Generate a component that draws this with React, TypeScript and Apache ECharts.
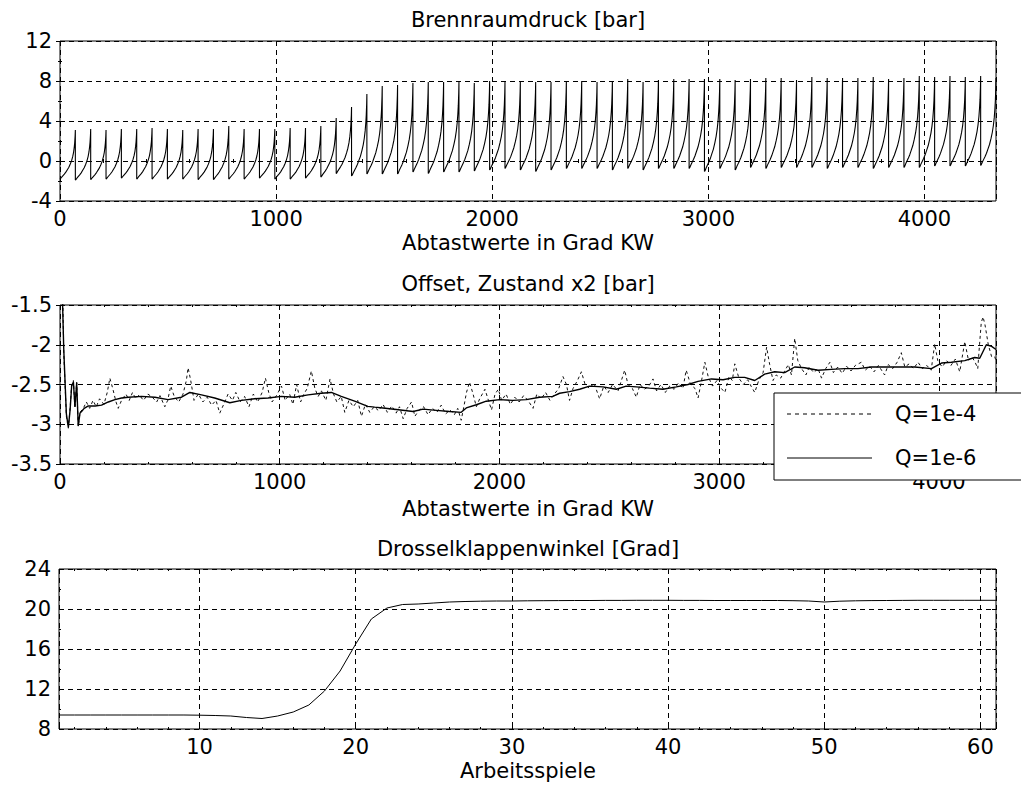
import React, { useEffect, useRef } from "react";
import * as echarts from "echarts";

const FONT = "DejaVu Sans";

// ---------- Top: Brennraumdruck ----------
// 61 working cycles, 71 samples (Grad KW) each
const SAMPLES_PER_CYCLE = 71;
// peak pressure reached at the end of each cycle [bar]
const CYCLE_PEAKS = [
  3.1, 3.2, 3.1, 3.2, 3.2, 3.3, 3.2, 3.1, 3.2, 3.2, 3.5, 3.2, 3.2, 3.2, 3.3, 3.3, 3.5,
  4.3, 5.4, 6.7, 7.5, 7.6, 7.8, 7.9, 7.9, 7.9, 7.8, 8.0, 7.9, 7.9, 7.9, 7.9, 8.0, 8.0, 7.9, 8.0, 8.2, 7.9, 8.1,
  8.2, 8.2, 8.2, 8.2, 8.1, 8.2, 8.3, 8.3, 8.1, 8.4, 8.3, 8.3, 8.3, 8.4, 8.2, 8.3, 8.5, 8.4, 8.5, 8.4, 8.5, 8.3,
];
// minimum pressure at the start of each cycle [bar]
const CYCLE_MINS = [
  -1.8, -1.9, -1.85, -1.8, -1.7, -1.8, -1.8, -1.8, -1.8, -1.85, -1.85, -1.8, -1.8, -1.7, -1.8, -1.8, -1.7, -1.6,
  -1.25, -1.5, -1.3, -1.3, -1.3, -1.1, -1.25, -1.1, -1.1, -1.0, -0.9, -0.75, -0.9, -1.05, -0.9, -0.75, -0.75, -0.75, -0.9, -0.75, -0.9, -0.75,
  -0.75, -0.75, -1.05, -0.75, -0.9, -0.65, -0.75, -0.65, -0.65, -0.65, -0.75, -0.65, -0.65, -0.75, -0.65, -0.65, -0.65, -0.5, -0.5, -0.5, -0.45,
];
// shape of one compression curve (sample offset, fraction of min->peak)
const SHAPE_OFFSETS = [0, 3, 8, 14, 20, 27, 34, 41, 48, 54, 59, 63, 66, 68, 70, 71];
const SHAPE_FRACTION = [0, 0.01, 0.04, 0.07, 0.1, 0.14, 0.19, 0.24, 0.31, 0.38, 0.46, 0.55, 0.65, 0.74, 0.88, 1.0];

// ---------- Middle: Offset, Zustand x2 ----------
const OFFSET_Q6: [number, number][] = [
  [0, -0.8], [10, -1.3], [17, -2.05], [29, -2.87], [38, -3.04], [46, -2.82], [53, -2.52], [61, -2.47],
  [68, -2.78], [76, -2.48], [83, -3.02], [91, -2.86], [98, -2.84], [110, -2.8], [129, -2.77], [160, -2.77],
  [189, -2.76], [220, -2.72], [250, -2.69], [280, -2.67], [311, -2.66], [371, -2.65], [432, -2.66], [492, -2.69],
  [553, -2.66], [591, -2.6], [644, -2.63], [704, -2.67], [773, -2.73], [826, -2.7], [886, -2.68], [947, -2.67],
  [1008, -2.65], [1068, -2.66], [1129, -2.63], [1189, -2.61], [1235, -2.6], [1280, -2.65], [1341, -2.71],
  [1401, -2.775], [1432, -2.785], [1470, -2.795], [1531, -2.815], [1607, -2.84], [1652, -2.81], [1713, -2.825],
  [1773, -2.84], [1826, -2.85], [1849, -2.795], [1895, -2.755], [1940, -2.71], [2001, -2.69], [2061, -2.7],
  [2122, -2.69], [2183, -2.66], [2243, -2.65], [2274, -2.61], [2319, -2.59], [2365, -2.56], [2410, -2.52],
  [2471, -2.53], [2532, -2.56], [2577, -2.52], [2623, -2.53], [2683, -2.545], [2744, -2.56], [2805, -2.53],
  [2858, -2.5], [2904, -2.46], [2965, -2.43], [3018, -2.44], [3071, -2.41], [3116, -2.41], [3162, -2.45],
  [3207, -2.37], [3253, -2.34], [3298, -2.35], [3344, -2.28], [3389, -2.29], [3450, -2.32], [3511, -2.31],
  [3571, -2.3], [3632, -2.3], [3693, -2.28], [3753, -2.28], [3814, -2.28], [3890, -2.28], [3966, -2.3],
  [4012, -2.23], [4057, -2.22], [4118, -2.2], [4163, -2.16], [4186, -2.17], [4216, -2.0], [4240, -2.02], [4260, -2.06],
];
const OFFSET_Q4: [number, number][] = [
  [0, -0.5], [7, -0.5], [17, -2.1], [29, -2.9], [38, -3.05], [46, -2.8], [53, -2.5], [61, -2.45], [68, -2.8],
  [76, -2.47], [83, -3.03], [91, -2.85], [106, -2.8], [120, -2.72], [135, -2.8], [150, -2.7], [165, -2.78],
  [180, -2.68], [200, -2.75], [215, -2.6], [227, -2.42], [240, -2.55], [255, -2.72], [265, -2.8], [280, -2.7],
  [300, -2.62], [315, -2.7], [330, -2.6], [345, -2.68], [360, -2.63], [380, -2.7], [400, -2.62], [420, -2.66],
  [440, -2.72], [455, -2.64], [477, -2.78], [490, -2.7], [504, -2.52], [520, -2.65], [540, -2.72], [560, -2.62],
  [575, -2.45], [583, -2.29], [595, -2.45], [610, -2.7], [630, -2.62], [650, -2.72], [670, -2.66], [690, -2.76],
  [710, -2.7], [727, -2.86], [745, -2.75], [765, -2.62], [785, -2.7], [800, -2.6], [820, -2.72], [840, -2.65],
  [860, -2.78], [880, -2.62], [900, -2.72], [920, -2.6], [935, -2.42], [950, -2.6], [965, -2.72], [985, -2.64],
  [1008, -2.52], [1025, -2.7], [1045, -2.62], [1060, -2.75], [1077, -2.5], [1095, -2.72], [1110, -2.62],
  [1125, -2.55], [1144, -2.33], [1160, -2.55], [1175, -2.65], [1190, -2.58], [1210, -2.7], [1229, -2.43],
  [1245, -2.62], [1260, -2.72], [1280, -2.65], [1296, -2.85], [1315, -2.7], [1335, -2.78], [1355, -2.7],
  [1372, -2.9], [1390, -2.75], [1410, -2.85], [1430, -2.78], [1450, -2.83], [1470, -2.75], [1490, -2.85],
  [1510, -2.77], [1530, -2.86], [1545, -2.78], [1562, -2.93], [1580, -2.8], [1600, -2.72], [1615, -2.9],
  [1635, -2.82], [1655, -2.78], [1675, -2.88], [1695, -2.8], [1715, -2.85], [1735, -2.76], [1755, -2.87],
  [1775, -2.82], [1795, -2.88], [1810, -2.8], [1826, -2.95], [1840, -2.75], [1850, -2.6], [1864, -2.47],
  [1880, -2.62], [1895, -2.78], [1910, -2.68], [1934, -2.56], [1950, -2.7], [1964, -2.82], [1980, -2.62],
  [1995, -2.56], [2010, -2.7], [2030, -2.62], [2050, -2.75], [2070, -2.66], [2090, -2.72], [2110, -2.64],
  [2130, -2.7], [2153, -2.8], [2170, -2.62], [2190, -2.68], [2210, -2.6], [2230, -2.7], [2250, -2.62],
  [2270, -2.55], [2289, -2.4], [2305, -2.5], [2319, -2.7], [2335, -2.55], [2355, -2.45], [2373, -2.34],
  [2390, -2.5], [2410, -2.55], [2430, -2.48], [2456, -2.68], [2475, -2.52], [2495, -2.6], [2515, -2.5],
  [2540, -2.58], [2555, -2.45], [2570, -2.32], [2585, -2.5], [2605, -2.55], [2623, -2.66], [2640, -2.5],
  [2660, -2.56], [2680, -2.52], [2699, -2.43], [2715, -2.58], [2735, -2.5], [2755, -2.6], [2775, -2.52],
  [2795, -2.56], [2815, -2.48], [2835, -2.55], [2850, -2.32], [2870, -2.5], [2890, -2.55], [2904, -2.67],
  [2920, -2.45], [2935, -2.22], [2950, -2.4], [2970, -2.52], [2990, -2.45], [3010, -2.55], [3026, -2.6],
  [3045, -2.4], [3060, -2.45], [3071, -2.24], [3090, -2.42], [3110, -2.5], [3130, -2.44], [3145, -2.52],
  [3162, -2.6], [3180, -2.45], [3200, -2.35], [3216, -2.03], [3230, -2.25], [3245, -2.45], [3260, -2.38],
  [3280, -2.42], [3300, -2.32], [3315, -2.25], [3329, -2.38], [3344, -1.92], [3358, -2.2], [3375, -2.3],
  [3395, -2.38], [3410, -2.28], [3430, -2.35], [3450, -2.3], [3466, -2.42], [3485, -2.3], [3504, -2.22],
  [3520, -2.35], [3540, -2.28], [3560, -2.36], [3580, -2.27], [3600, -2.33], [3620, -2.26], [3647, -2.22],
  [3665, -2.32], [3685, -2.27], [3705, -2.34], [3725, -2.26], [3753, -2.38], [3770, -2.25], [3790, -2.3],
  [3810, -2.22], [3829, -2.1], [3845, -2.28], [3865, -2.24], [3885, -2.3], [3905, -2.22], [3925, -2.3],
  [3945, -2.26], [3965, -2.32], [3981, -1.99], [3995, -2.2], [4015, -2.28], [4035, -2.2], [4055, -2.26],
  [4075, -2.18], [4095, -2.34], [4118, -1.96], [4135, -2.2], [4150, -2.15], [4165, -2.22], [4177, -2.3],
  [4185, -2.0], [4193, -1.72], [4201, -1.65], [4210, -1.75], [4225, -2.0], [4240, -2.15], [4254, -2.15], [4260, -2.2],
];

// ---------- Bottom: Drosselklappenwinkel ----------
const THROTTLE = [
  9.4, 9.4, 9.4, 9.4, 9.4, 9.4, 9.4, 9.4, 9.4, 9.38, 9.35, 9.3, 9.15, 9.05, 9.3, 9.7, 10.4, 11.8, 13.8, 16.5,
  19.0, 20.1, 20.45, 20.5, 20.6, 20.7, 20.75, 20.78, 20.8, 20.8, 20.82, 20.83, 20.84, 20.85, 20.85, 20.86,
  20.86, 20.87, 20.87, 20.87, 20.86, 20.86, 20.85, 20.85, 20.85, 20.85, 20.85, 20.83, 20.8, 20.7, 20.78,
  20.82, 20.84, 20.85, 20.86, 20.87, 20.87, 20.87, 20.87, 20.87, 20.87,
];

const TOP_X_MAX = SAMPLES_PER_CYCLE * CYCLE_PEAKS.length; // 4331
const MID_X_MAX = 4260;

function buildPressure(): [number, number][] {
  const out: [number, number][] = [];
  for (let c = 0; c < CYCLE_PEAKS.length; c++) {
    const lo = CYCLE_MINS[c];
    const hi = CYCLE_PEAKS[c];
    for (let j = 0; j < SHAPE_OFFSETS.length; j++) {
      out.push([c * SAMPLES_PER_CYCLE + SHAPE_OFFSETS[j], lo + (hi - lo) * SHAPE_FRACTION[j]]);
    }
  }
  return out;
}

const BLACK = "#000";
const GRID_DASH = [5, 4];
const labelStyle = { color: BLACK, fontFamily: FONT, fontSize: 21 };

function xAxes(gridIndex: number, min: number, max: number, opts: any) {
  const common = {
    type: "value",
    gridIndex,
    min,
    max,
    ...opts.scale,
    axisLine: { show: false },
    axisTick: { show: true, inside: true, length: 4, lineStyle: { color: BLACK } },
    minorTick: { show: true, splitNumber: opts.minor, length: 2, lineStyle: { color: BLACK } },
  };
  return [
    {
      ...common,
      position: "bottom",
      axisLabel: {
        ...labelStyle,
        margin: 7,
        showMinLabel: true,
        showMaxLabel: true,
        formatter: opts.formatter,
      },
      splitLine: { show: true, lineStyle: { color: BLACK, type: GRID_DASH, width: 1 } },
    },
    {
      ...common,
      position: "top",
      axisLabel: { show: false },
      splitLine: { show: false },
    },
  ];
}

function yAxes(gridIndex: number, min: number, max: number, interval: number, minor: number) {
  const common = {
    type: "value",
    gridIndex,
    min,
    max,
    interval,
    axisLine: { show: false },
    axisTick: { show: true, inside: true, length: 4, lineStyle: { color: BLACK } },
    minorTick: { show: minor > 1, splitNumber: minor, length: 2, lineStyle: { color: BLACK } },
  };
  return [
    {
      ...common,
      position: "left",
      axisLabel: { ...labelStyle, margin: 8, showMinLabel: true, showMaxLabel: true },
      splitLine: { show: true, lineStyle: { color: BLACK, type: GRID_DASH, width: 1 } },
    },
    {
      ...common,
      position: "right",
      axisLabel: { show: false },
      splitLine: { show: false },
    },
  ];
}

function textEl(text: string, x: number, y: number, align = "center") {
  return {
    type: "text",
    z: 100,
    x,
    y,
    style: {
      text,
      fill: BLACK,
      font: `21px "${FONT}"`,
      fontFamily: FONT,
      fontSize: 21,
      align,
      verticalAlign: "middle",
      textAlign: align,
      textVerticalAlign: "middle",
    },
  };
}

function buildOption() {
  const gridStyle = { show: true, borderColor: BLACK, borderWidth: 1, backgroundColor: "transparent", containLabel: false };
  const thousands = (v: number) => (v % 1000 === 0 ? String(v) : "");
  const tens = (v: number) => (v % 10 === 0 ? String(v) : "");
  return {
    animation: false,
    backgroundColor: "#fff",
    textStyle: { fontFamily: FONT },
    grid: [
      { ...gridStyle, left: 60, top: 41, width: 936, height: 160 },
      { ...gridStyle, left: 60, top: 305, width: 936, height: 159 },
      { ...gridStyle, left: 59, top: 569, width: 937, height: 160 },
    ],
    xAxis: [
      ...xAxes(0, 0, TOP_X_MAX, { scale: { interval: 1000 }, minor: 5, formatter: thousands }),
      ...xAxes(1, 0, MID_X_MAX, { scale: { interval: 1000 }, minor: 5, formatter: thousands }),
      ...xAxes(2, 1, 61, { scale: { splitNumber: 6 }, minor: 5, formatter: tens }),
    ],
    yAxis: [
      ...yAxes(0, -4, 12, 4, 2),
      ...yAxes(1, -3.5, -1.5, 0.5, 1),
      ...yAxes(2, 8, 24, 4, 2),
    ],
    series: [
      {
        type: "line",
        xAxisIndex: 0,
        yAxisIndex: 0,
        data: buildPressure(),
        showSymbol: false,
        symbol: "none",
        lineStyle: { color: BLACK, width: 1.1 },
        z: 5,
      },
      {
        name: "Q=1e-4",
        type: "line",
        xAxisIndex: 2,
        yAxisIndex: 2,
        data: OFFSET_Q4,
        showSymbol: false,
        symbol: "none",
        lineStyle: { color: "#111", width: 1, type: [3, 3] },
        z: 4,
      },
      {
        name: "Q=1e-6",
        type: "line",
        xAxisIndex: 2,
        yAxisIndex: 2,
        data: OFFSET_Q6,
        showSymbol: false,
        symbol: "none",
        lineStyle: { color: BLACK, width: 1.4 },
        z: 5,
      },
      {
        type: "line",
        xAxisIndex: 4,
        yAxisIndex: 4,
        data: THROTTLE.map((v, i) => [i + 1, v]),
        showSymbol: false,
        symbol: "none",
        lineStyle: { color: BLACK, width: 1 },
        z: 5,
      },
    ],
    graphic: [
      textEl("Brennraumdruck [bar]", 528, 20),
      textEl("Abtastwerte in Grad KW", 528, 243),
      textEl("Offset, Zustand x2 [bar]", 528, 284),
      textEl("Abtastwerte in Grad KW", 528, 509),
      textEl("Drosselklappenwinkel [Grad]", 528, 549),
      textEl("Arbeitsspiele", 528, 771),
      {
        type: "rect",
        z: 100,
        shape: { x: 774, y: 393, width: 300, height: 87 },
        style: { fill: "#fff", stroke: BLACK, lineWidth: 1 },
      },
      {
        type: "line",
        z: 101,
        shape: { x1: 787, y1: 414, x2: 872, y2: 414 },
        style: { stroke: BLACK, lineWidth: 1, lineDash: [4, 4] },
      },
      textEl("Q=1e-4", 895, 414, "left"),
      {
        type: "line",
        z: 101,
        shape: { x1: 787, y1: 458, x2: 872, y2: 458 },
        style: { stroke: BLACK, lineWidth: 1 },
      },
      textEl("Q=1e-6", 895, 458, "left"),
    ],
  };
}

export default function App() {
  const ref = useRef<HTMLDivElement>(null);
  useEffect(() => {
    if (!ref.current) return;
    const chart = echarts.init(ref.current, null, { renderer: "svg" });
    chart.setOption(buildOption() as any);
    return () => chart.dispose();
  }, []);
  return (
    <div
      ref={ref}
      style={{ position: "fixed", left: 0, top: 0, width: 1021, height: 787, background: "#fff" }}
    />
  );
}
